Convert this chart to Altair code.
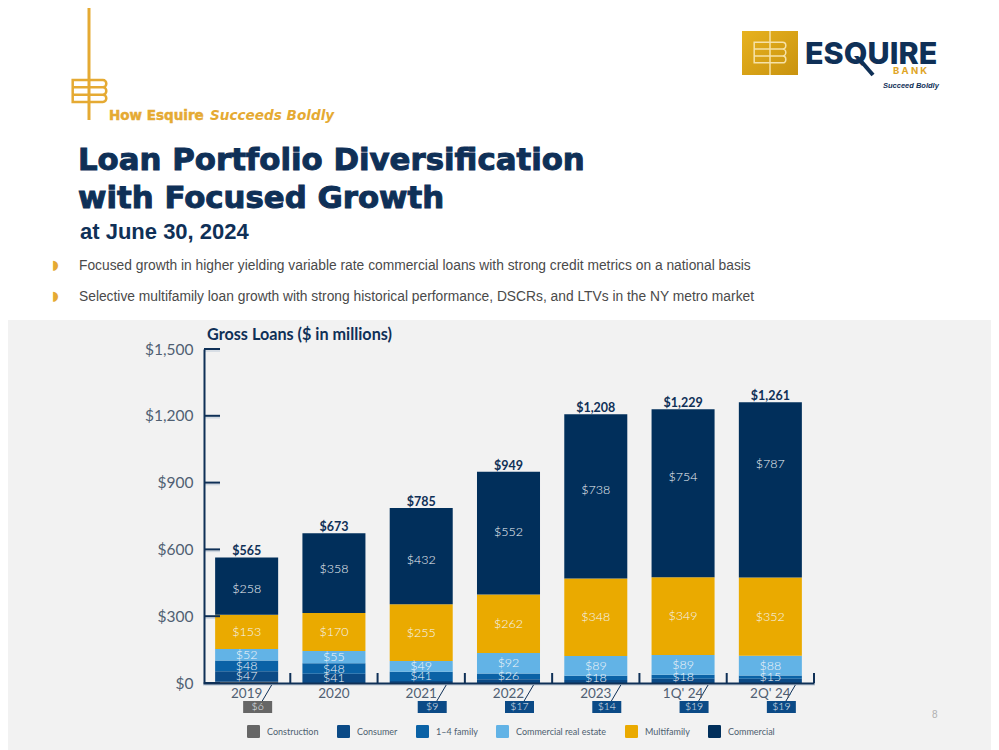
import altair as alt
import pandas as pd

years = ["2019", "2020", "2021", "2022", "2023", "1Q' 24", "2Q' 24"]
construction = [6, 0, 0, 0, 0, 0, 0]
consumer = [47, 41, 9, 17, 14, 19, 19]
family = [48, 48, 41, 26, 18, 18, 15]
cre = [52, 55, 49, 92, 89, 89, 88]
multifamily = [153, 170, 255, 262, 348, 349, 352]
commercial = [258, 358, 432, 552, 738, 754, 787]
commercial_label_at = [422, 512, 552, 678, 867, 925, 983]
totals = [565, 673, 785, 949, 1208, 1229, 1261]
y_ticks = [0, 300, 600, 900, 1200, 1500]
series_names = ["Construction", "Consumer", "1–4 family", "Commercial real estate", "Multifamily", "Commercial"]
series_colors = ["#666666", "#0b4a86", "#0a62a6", "#62b3e6", "#eaaa00", "#012f5b"]
series_values = [construction, consumer, family, cre, multifamily, commercial]

NAVY = "#0f3057"
GOLD = "#e5aa33"
SANS = "Lato"

rows = []
callouts = []
for i, y in enumerate(years):
    base = 0
    for j, (n, vals) in enumerate(zip(series_names, series_values)):
        v = vals[i]
        if v == 0:
            continue
        is_callout = (n == "Construction") or (n == "Consumer" and v < 20)
        mid = commercial_label_at[i] if n == "Commercial" else base + v / 2
        rows.append({"year": y, "series": n, "order": j, "value": v, "mid": mid,
                     "label": "" if is_callout else f"${v}"})
        if is_callout:
            callouts.append({"year": y, "series": n, "label": f"${v}"})
        base += v
df = pd.DataFrame(rows)
dc = pd.DataFrame(callouts)
dt = pd.DataFrame({"year": years, "total": totals, "label": [f"${t:,}" for t in totals]})
dy = pd.DataFrame({"tick": y_ticks})

xs = alt.Scale(domain=years, range=[195, 806], paddingInner=0.278, paddingOuter=0.139)
ys = alt.Scale(domain=[0, 1500], range=[675, 341], nice=False)
cs = alt.Scale(domain=series_names, range=series_colors)
H = 742
one = alt.Data(values=[{"t": 1}])


def txt(s, x, y, size=13, color=NAVY, font=SANS, weight="normal", align="left", style="normal", stroke=None, sw=0):
    kw = dict(fontSize=size, color=color, font=font, fontWeight=weight, align=align, baseline="middle", fontStyle=style)
    if stroke:
        kw.update(stroke=stroke, strokeWidth=sw)
    return alt.Chart(alt.Data(values=[{"t": s}])).mark_text(**kw).encode(
        x=alt.value(x - 8), y=alt.value(y - 8), text="t:N")


def box(x1, y1, x2, y2, color):
    return alt.Chart(one).mark_rect(color=color).encode(
        x=alt.value(x1 - 8), x2=alt.value(x2 - 8), y=alt.value(y1 - 8), y2=alt.value(y2 - 8))


def seg(x1, y1, x2, y2, color, w):
    return alt.Chart(one).mark_rule(color=color, strokeWidth=w).encode(
        x=alt.value(x1 - 8), x2=alt.value(x2 - 8), y=alt.value(y1 - 8), y2=alt.value(y2 - 8))


EB = ("M 0 -0.65 L -1 -0.65 L -1 0.65 L 0 0.65 M -1 -0.22 L 0 -0.22 M -1 0.22 L 0 0.22 "
      "M 0 -0.65 L 0.8 -0.65 A 0.2 0.215 0 0 1 0.8 -0.22 L 0 -0.22 M 0.8 -0.22 A 0.2 0.22 0 0 1 0.8 0.22 L 0 0.22 "
      "M 0.8 0.22 A 0.2 0.215 0 0 1 0.8 0.65 L 0 0.65")


def eb(x, y, size, color, w):
    return alt.Chart(one).mark_point(shape=EB, size=size, stroke=color, strokeWidth=w, filled=False, opacity=1).encode(
        x=alt.value(x - 8), y=alt.value(y - 8))


layers = [
    box(0, 320, 999, 750, "#f2f2f2"),
    # left emblem
    seg(89, 0, 89, 120, GOLD, 3),
    eb(89.5, 91, 1130, GOLD, 2.5),
    # logo
    alt.Chart(one).mark_rect(color=alt.Gradient(gradient="linear", x1=0, y1=0, x2=1, y2=1, stops=[
        alt.GradientStop(offset=0, color="#e7b21f"), alt.GradientStop(offset=1, color="#c9930f")])).encode(
        x=alt.value(742 - 8), x2=alt.value(798 - 8), y=alt.value(31 - 8), y2=alt.value(75 - 8)),
    seg(770, 31, 770, 75, "#f6e2a8", 1.5),
    eb(770, 52.5, 1000, "#f6e2a8", 1.5),
    txt("ESQUIRE", 805, 55, size=30.5, color=NAVY, font="Inter", weight=800),
    seg(860, 60, 873, 75, NAVY, 4),
    txt("B    A    N    K", 893, 71, size=9.5, color="#e0a526", font="Inter", weight=700),
    txt("Succeed Boldly", 883, 86, size=7.5, color=NAVY, font="Liberation Sans", weight="bold", style="italic"),
    # headings
    txt("How Esquire", 109, 116, size=13.5, color=GOLD, font="DejaVu Sans", weight="bold", stroke=GOLD, sw=0.5),
    txt("Succeeds Boldly", 210, 116, size=13.6, color=GOLD, font="DejaVu Sans", weight="bold", style="italic"),
    txt("Loan Portfolio Diversification", 78, 160.5, size=30.8, color=NAVY, font="DejaVu Sans", weight="bold", stroke=NAVY, sw=1),
    txt("with Focused Growth", 78, 198.5, size=30.8, color=NAVY, font="DejaVu Sans", weight="bold", stroke=NAVY, sw=1),
    txt("at June 30, 2024", 80, 232, size=22, color=NAVY, font="Liberation Sans", weight="bold"),
    txt("◗", 52, 265, size=13, color=GOLD, font="DejaVu Sans"),
    txt("Focused growth in higher yielding variable rate commercial loans with strong credit metrics on a national basis",
        79, 265.5, size=13.8, color="#4a4a4a", font="Liberation Sans"),
    txt("◗", 52, 296, size=13, color=GOLD, font="DejaVu Sans"),
    txt("Selective multifamily loan growth with strong historical performance, DSCRs, and LTVs in the NY metro market",
        79, 296.5, size=13.8, color="#4a4a4a", font="Liberation Sans"),
    txt("Gross Loans ($ in millions)", 207, 335, size=16.2, color=NAVY, weight="bold"),
    txt("8", 932, 715, size=10, color="#b0b0b0", font="Liberation Sans"),
    seg(203, 685, 815, 685, "#cfd7e0", 1.5),
]

bars = alt.Chart(df).mark_bar().encode(
    x=alt.X("year:N", scale=xs, sort=years, title=None, axis=alt.Axis(
        orient="bottom", offset=-(H - 675), domainColor=NAVY, domainWidth=2, ticks=False, labelAngle=0,
        labelColor="#505f72", labelFont=SANS, labelFontSize=13.5, labelPadding=3, grid=False, zindex=1)),
    y=alt.Y("value:Q", stack="zero", scale=ys, title=None, axis=alt.Axis(
        orient="left", offset=-196, values=y_ticks, format="$,.0f", domainColor=NAVY, domainWidth=2, ticks=False,
        labelColor="#505f72", labelFont=SANS, labelFontSize=15.5, labelPadding=11, grid=False, zindex=1)),
    color=alt.Color("series:N", scale=cs, legend=alt.Legend(
        orient="none", legendX=239, legendY=717, direction="horizontal", columns=6, title=None,
        symbolType="M -0.8 -1 L 0.8 -1 Q 1 -1 1 -0.8 L 1 0.8 Q 1 1 0.8 1 L -0.8 1 Q -1 1 -1 0.8 L -1 -0.8 Q -1 -1 -0.8 -1 Z",
        symbolSize=169, symbolStrokeWidth=0, labelFont=SANS, labelFontSize=9, labelColor="#4d6070",
        labelOffset=7, columnPadding=18, symbolOpacity=1)),
    order=alt.Order("order:Q"),
)

seg_labels = alt.Chart(df[df.label != ""]).mark_text(color="#f4f6f8", font=SANS, fontSize=12.5, fontWeight=300, baseline="middle").encode(
    x=alt.X("year:N", scale=xs, sort=years), y=alt.Y("mid:Q", scale=ys), text="label:N")

total_labels = alt.Chart(dt).mark_text(color=NAVY, font=SANS, fontSize=12.5, fontWeight="bold", baseline="bottom", dy=1).encode(
    x=alt.X("year:N", scale=xs, sort=years), y=alt.Y("total:Q", scale=ys), text="label:N")

y_tick_shadow = alt.Chart(dy).mark_rule(color="#cfd7e0", strokeWidth=1.5, yOffset=2).encode(
    x=alt.value(197), x2=alt.value(212), y=alt.Y("tick:Q", scale=ys))

y_tick_rules = alt.Chart(dy).mark_rule(color=NAVY, strokeWidth=2).encode(
    x=alt.value(196), x2=alt.value(212), y=alt.Y("tick:Q", scale=ys))

x_tick_rules = alt.Chart(pd.DataFrame({"year": years})).mark_rule(color=NAVY, strokeWidth=2, xOffset=43.65).encode(
    x=alt.X("year:N", scale=xs, sort=years), y=alt.datum(0, scale=ys), y2=alt.datum(45))

leaders = alt.Chart(dc).mark_rule(color=NAVY, strokeWidth=1, xOffset=25, x2Offset=15).encode(
    x=alt.X("year:N", scale=xs, sort=years), x2="year:N", y=alt.value(677), y2=alt.value(694))

boxes = alt.Chart(dc).mark_bar(xOffset=11, width=29, height=12).encode(
    x=alt.X("year:N", scale=xs, sort=years), y=alt.value(699),
    color=alt.Color("series:N", scale=cs))

box_labels = alt.Chart(dc).mark_text(color="#e9eef3", font=SANS, fontSize=10.5, fontWeight=300, baseline="middle", dx=11).encode(
    x=alt.X("year:N", scale=xs, sort=years), y=alt.value(699), text="label:N")

layers += [y_tick_shadow, bars, seg_labels, total_labels, y_tick_rules, x_tick_rules, leaders, boxes, box_labels]

chart = alt.layer(*layers).properties(
    width=983, height=H, padding=0, autosize=alt.AutoSizeParams(type="none"),
    background="white",
).configure_view(stroke=None)

chart.save("out.html", embed_options={"renderer": "svg", "actions": False})
